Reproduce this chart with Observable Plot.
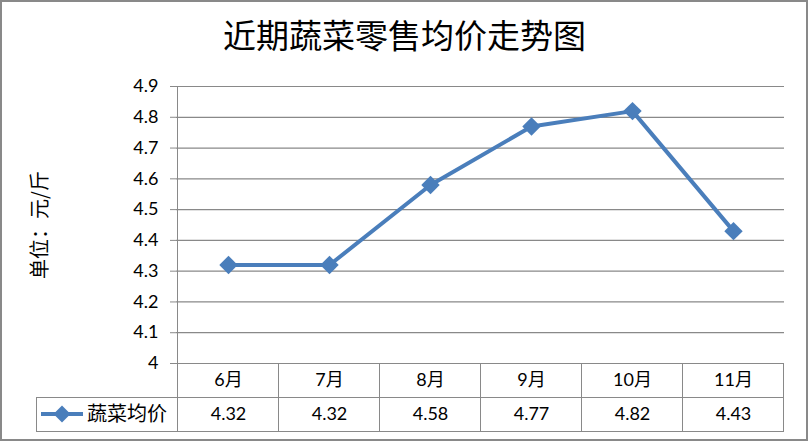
<!DOCTYPE html>
<html>
<head>
<meta charset="utf-8">
<script src="https://cdn.jsdelivr.net/npm/d3@7"></script>
<script src="https://cdn.jsdelivr.net/npm/@observablehq/plot@0.6"></script>
<style>
  html, body { margin: 0; padding: 0; background: #fff; }
  svg { display: block; }
</style>
</head>
<body>
<div id="chart"></div>
<script>
const months = ["6月", "7月", "8月", "9月", "10月", "11月"];
const prices = [4.32, 4.32, 4.58, 4.77, 4.82, 4.43];
const yTicks = [4, 4.1, 4.2, 4.3, 4.4, 4.5, 4.6, 4.7, 4.8, 4.9];
const seriesName = "蔬菜均价";
const titleText = "近期蔬菜零售均价走势图";
const yLabel = "单位：元/斤";

const data = months.map((m, i) => ({month: m, value: prices[i]}));
const blue = "#4a7ebb";
const gray = "#898989";
const latin = "Lato, 'Noto Sans CJK SC', sans-serif";
const cjk = "'Noto Sans CJK SC', sans-serif";

function decor(index, scales, values, dims) {
  const {x, y} = scales;
  const step = x(months[1]) - x(months[0]);
  const left = x(months[0]) - step / 2;
  const right = x(months[months.length - 1]) + step / 2;
  const y0 = y(4);
  const rowH = 34;
  const g = d3.create("svg:g");
  // outer border
  g.append("rect").attr("x", 1).attr("y", 1).attr("width", dims.width - 3).attr("height", dims.height - 4)
    .attr("fill", "none").attr("stroke", gray).attr("stroke-width", 2);
  const lines = g.append("g").attr("stroke", gray).attr("stroke-width", 1).attr("shape-rendering", "crispEdges");
  // y axis line through table
  lines.append("line").attr("x1", left).attr("x2", left).attr("y1", y(4.9)).attr("y2", y0 + 2 * rowH);
  // column boundaries in table
  months.forEach((m, i) => {
    const bx = x(m) + step / 2;
    lines.append("line").attr("x1", bx).attr("x2", bx).attr("y1", y0).attr("y2", y0 + 2 * rowH);
  });
  const legendLeft = 36;
  lines.append("line").attr("x1", legendLeft).attr("x2", right).attr("y1", y0 + rowH).attr("y2", y0 + rowH);
  lines.append("line").attr("x1", legendLeft).attr("x2", right).attr("y1", y0 + 2 * rowH).attr("y2", y0 + 2 * rowH);
  lines.append("line").attr("x1", legendLeft).attr("x2", legendLeft).attr("y1", y0 + rowH).attr("y2", y0 + 2 * rowH);
  // legend sample
  const ly = y0 + rowH * 1.5;
  g.append("line").attr("x1", 41).attr("x2", 83).attr("y1", ly).attr("y2", ly)
    .attr("stroke", blue).attr("stroke-width", 4);
  const r = 8.5;
  g.append("path").attr("d", `M0,${-r}L${r},0L0,${r}L${-r},0Z`)
    .attr("transform", `translate(62,${ly})`).attr("fill", blue);
  g.append("text").attr("x", 87).attr("y", ly).attr("dy", "0.36em").attr("text-anchor", "start")
    .attr("font-family", cjk).attr("font-size", 20).attr("fill", "#000").text(seriesName);
  return g.node();
}

const chart = Plot.plot({
  width: 809,
  height: 443,
  marginLeft: 176,
  marginRight: 25,
  marginTop: 86,
  marginBottom: 80,
  style: {background: "white", fontFamily: latin, color: "#000"},
  x: {type: "point", domain: months, padding: 0.5, axis: null},
  y: {domain: [4, 4.9], axis: null},
  marks: [
    Plot.gridY(yTicks, {stroke: gray, strokeOpacity: 1, strokeWidth: 1.2}),
    Plot.axisY(yTicks, {
      tickSize: 6, tickPadding: 12, stroke: gray, strokeOpacity: 1,
      fontSize: 18, fill: "#000",
      tickFormat: d => String(+d.toFixed(1)), label: null
    }),
    decor,
    Plot.line(data, {x: "month", y: "value", stroke: blue, strokeWidth: 4}),
    Plot.dot(data, {x: "month", y: "value", symbol: "diamond2", r: 8.3, fill: blue, stroke: "none"}),
    Plot.text(data, {x: "month", text: "month", frameAnchor: "bottom", lineAnchor: "middle", dy: 17, fontSize: 18, fill: "#000", fontFamily: latin}),
    Plot.text(data, {x: "month", text: d => d.value.toFixed(2), frameAnchor: "bottom", lineAnchor: "middle", dy: 51, fontSize: 18, fill: "#000", fontFamily: latin}),
    Plot.text([titleText], {frameAnchor: "top", dx: -76, dy: -49, fontSize: 33, fill: "#000", fontFamily: cjk, textAnchor: "middle", lineAnchor: "middle", text: d => d, style: "letter-spacing:0.6px"}),
    Plot.text([yLabel], {frameAnchor: "left", dx: -136, dy: 0, rotate: -90, textAnchor: "middle", fontSize: 20, fill: "#000", fontFamily: cjk, text: d => d})
  ]
});
document.getElementById("chart").append(chart);
</script>
</body>
</html>
